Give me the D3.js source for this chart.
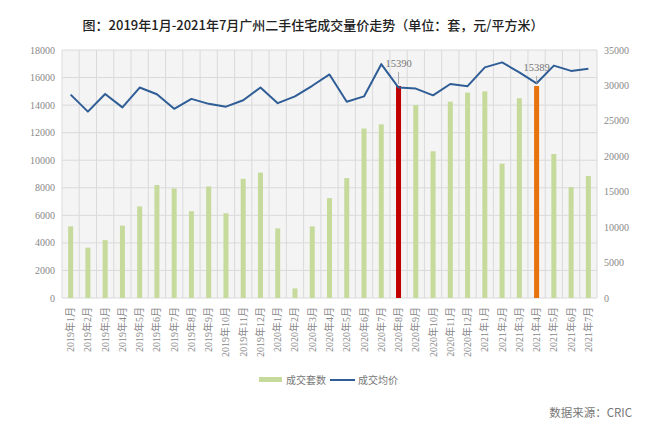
<!DOCTYPE html>
<html><head><meta charset="utf-8">
<script src="https://cdn.jsdelivr.net/npm/d3@7"></script>
<style>body{margin:0;background:#fff}svg{display:block}
.serif{font-family:"Liberation Serif","DejaVu Serif","Times New Roman","Noto Sans CJK SC",serif}
.cjk{font-family:"Noto Sans CJK SC",sans-serif}
</style>
</head><body><svg id="c" width="650" height="425"></svg>
<script>
const months = ["2019年1月","2019年2月","2019年3月","2019年4月","2019年5月","2019年6月","2019年7月","2019年8月","2019年9月","2019年10月","2019年11月","2019年12月",
"2020年1月","2020年2月","2020年3月","2020年4月","2020年5月","2020年6月","2020年7月","2020年8月","2020年9月","2020年10月","2020年11月","2020年12月",
"2021年1月","2021年2月","2021年3月","2021年4月","2021年5月","2021年6月","2021年7月"];
const volume = [5200,3650,4200,5250,6650,8200,7950,6300,8100,6150,8650,9100,
5050,700,5200,7250,8700,12300,12600,15390,14000,10650,14250,14900,
15000,9750,14500,15389,10450,8050,8850];
const price = [28700,26300,28800,26900,29700,28750,26700,28100,27400,27000,27900,29700,
27500,28450,29950,31550,27700,28450,33000,29700,29550,28600,30200,29900,
32550,33250,31850,30300,32800,32050,32350];
const leftTicks = [0,2000,4000,6000,8000,10000,12000,14000,16000,18000];
const rightTicks = [0,5000,10000,15000,20000,25000,30000,35000];
const highlights = {"2020年8月":"#c00000","2021年4月":"#e8730c"};
const labels = [{m:"2020年8月",v:15390,off:19},{m:"2021年4月",v:15389,off:15}];

const svg = d3.select("#c");
const L=62,R=597,T=50,B=298;
const x = d3.scaleBand().domain(months).range([L,R]).paddingInner(0.71).paddingOuter(0.355);
const xg = d3.scaleBand().domain(months).range([L,R]).padding(0);
const yL = d3.scaleLinear().domain([0,18000]).range([B,T]);
const yR = d3.scaleLinear().domain([0,35000]).range([B,T]);

svg.append("text").attr("class","cjk").attr("x",313).attr("y",30).attr("text-anchor","middle")
  .attr("font-size",13).attr("font-weight",500).attr("fill","#222")
  .text("图：2019年1月-2021年7月广州二手住宅成交量价走势（单位：套，元/平方米）");

svg.append("rect").attr("x",L).attr("y",T).attr("width",R-L).attr("height",B-T).attr("fill","#f4f4f4");
svg.append("g").selectAll("line").data(leftTicks).join("line")
  .attr("x1",L).attr("x2",R).attr("y1",d=>yL(d)).attr("y2",d=>yL(d)).attr("stroke","#dadada").attr("stroke-width",1);
const bounds = months.map(m=>xg(m)).concat([R]);
svg.append("g").selectAll("line").data(bounds).join("line")
  .attr("x1",d=>d).attr("x2",d=>d).attr("y1",T).attr("y2",B).attr("stroke","#dadada").attr("stroke-width",1);

svg.append("g").selectAll("rect").data(months).join("rect")
  .attr("x",(m)=>x(m)).attr("width",x.bandwidth())
  .attr("y",(m,i)=>yL(volume[i])).attr("height",(m,i)=>B-yL(volume[i]))
  .attr("fill",m=>highlights[m]||"#c6da9c");

const line = d3.line().x((d,i)=>x(months[i])+x.bandwidth()/2).y(d=>yR(d));
svg.append("path").datum(price).attr("d",line).attr("fill","none").attr("stroke","#2f5d96").attr("stroke-width",2).attr("stroke-linejoin","round");

labels.forEach(l=>{
  const cx = x(l.m)+x.bandwidth()/2, cy = yL(l.v);
  svg.append("line").attr("x1",cx).attr("x2",cx).attr("y1",cy-l.off+5).attr("y2",cy-2).attr("stroke","#999").attr("stroke-width",0.8);
  svg.append("text").attr("class","serif").attr("x",cx).attr("y",cy-l.off).attr("text-anchor","middle").attr("font-size",10.5).attr("fill","#777").text(l.v);
});

svg.append("g").selectAll("text").data(leftTicks).join("text").attr("class","serif")
  .attr("x",55).attr("y",d=>yL(d)+3.5).attr("text-anchor","end").attr("font-size",10).attr("fill","#888").text(d=>d);
svg.append("g").selectAll("text").data(rightTicks).join("text").attr("class","serif")
  .attr("x",604).attr("y",d=>yR(d)+3.5).attr("text-anchor","start").attr("font-size",10).attr("fill","#888").text(d=>d);
svg.append("g").selectAll("text").data(months).join("text").attr("class","serif")
  .attr("transform",m=>`translate(${x(m)+x.bandwidth()/2+3.5},307) rotate(-90)`)
  .attr("text-anchor","end").attr("font-size",10).attr("fill","#888").text(m=>m);

svg.append("rect").attr("x",259).attr("y",377).attr("width",23).attr("height",5).attr("fill","#c6da9c");
svg.append("text").attr("class","cjk").attr("x",286).attr("y",383.5).attr("font-size",10).attr("fill","#777").text("成交套数");
svg.append("line").attr("x1",330).attr("x2",355).attr("y1",380).attr("y2",380).attr("stroke","#2f5d96").attr("stroke-width",2);
svg.append("text").attr("class","cjk").attr("x",358).attr("y",383.5).attr("font-size",10).attr("fill","#777").text("成交均价");

svg.append("text").attr("class","cjk").attr("x",632).attr("y",417).attr("text-anchor","end").attr("font-size",11.5).attr("fill","#777").text("数据来源：CRIC");
</script></body></html>
